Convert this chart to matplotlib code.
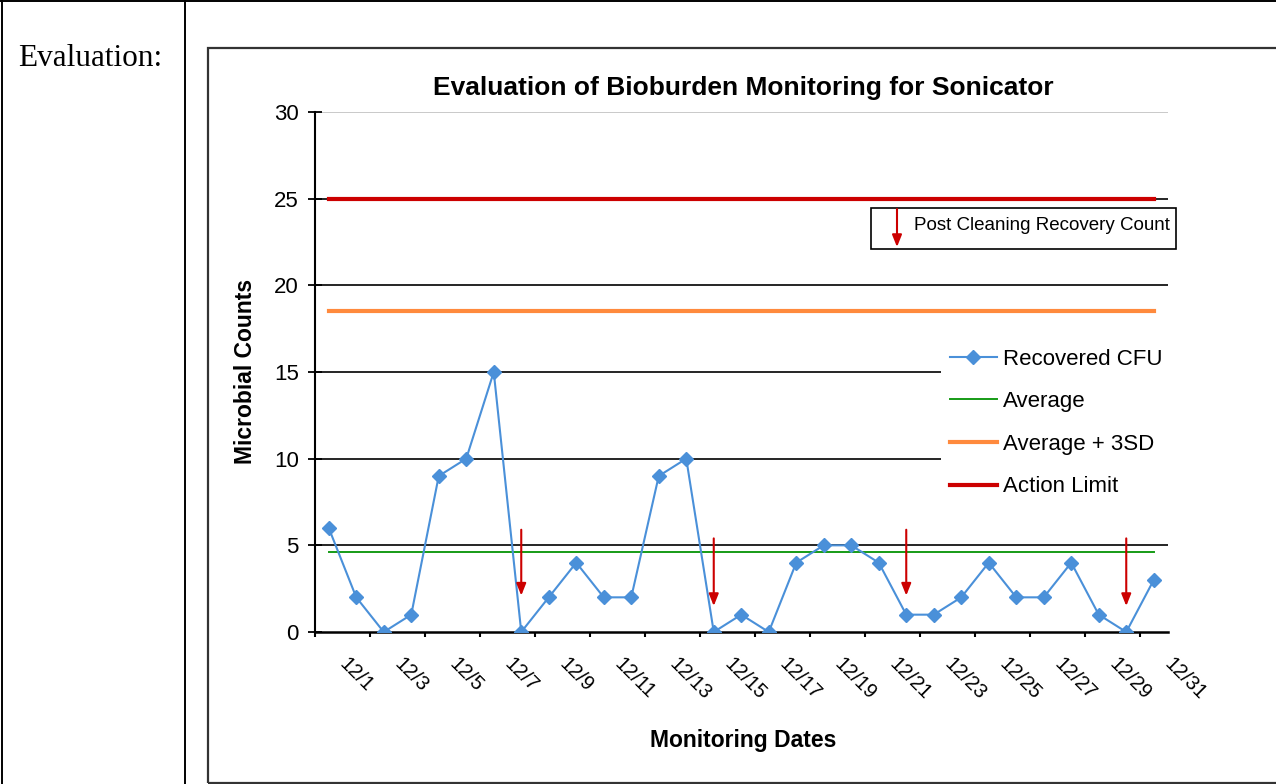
import matplotlib
matplotlib.use("Agg")
import matplotlib.pyplot as plt
import matplotlib.transforms as mtransforms
from matplotlib.lines import Line2D
from matplotlib.patches import Rectangle, FancyArrowPatch

# ---- data ----
dates = ["12/1", "12/2", "12/3", "12/4", "12/5", "12/6", "12/7", "12/8",
         "12/9", "12/10", "12/11", "12/12", "12/13", "12/14", "12/15", "12/16",
         "12/17", "12/18", "12/19", "12/20", "12/21", "12/22", "12/23", "12/24",
         "12/25", "12/26", "12/27", "12/28", "12/29", "12/30", "12/31"]
recovered_cfu = [6, 2, 0, 1, 9, 10, 15, 0, 2, 4, 2, 2, 9, 10, 0, 1,
                 0, 4, 5, 5, 4, 1, 1, 2, 4, 2, 2, 4, 1, 0, 3]
average = 4.6
average_3sd = 18.5
action_limit = 25
y_ticks = [0, 5, 10, 15, 20, 25, 30]

# post cleaning recovery counts (red arrows)
post_cleaning_days = ["12/8", "12/15", "12/22", "12/30"]
arrow_top = [5.9, 5.4, 5.9, 5.4]
arrow_tip = [2.1, 1.5, 2.1, 1.5]

W, H = 1276, 784
plt.rcParams['font.family'] = ['Liberation Sans', 'DejaVu Sans']

ARROW = '-|>,head_width=0.22,head_length=0.55'
RED = '#CC0000'


def fx(px):
    return px / W


def fy(py):
    # pixel measured from the top -> figure fraction
    return 1 - py / H


fig = plt.figure(figsize=(W / 100, H / 100), dpi=100)
fig.patch.set_facecolor('white')

# document table lines and chart frame
line_kw = dict(transform=fig.transFigure, color='black', lw=1.4)
fig.add_artist(Line2D([0, 1], [fy(0.6), fy(0.6)], **line_kw))
fig.add_artist(Line2D([fx(2.5), fx(2.5)], [0, 1], **line_kw))
fig.add_artist(Line2D([fx(184.5), fx(184.5)], [0, 1], **line_kw))
fig.add_artist(Rectangle((fx(208), fy(782.5)), fx(W + 20 - 208), (782.5 - 47.5) / H,
                         transform=fig.transFigure, fill=False,
                         edgecolor='#333333', lw=1.6))

fig.text(fx(18), fy(66.5), "Evaluation:", family='Liberation Serif',
         fontsize=22.5, ha='left', va='baseline')

ax = fig.add_axes([fx(315), fy(632), 852.5 / W, 520 / H])
x = list(range(len(dates)))
ax.set_xlim(-0.5, len(dates) - 0.5)
ax.set_ylim(0, 30)

for v in y_ticks[1:]:
    ax.axhline(v, color='black' if v < 30 else '#C0C0C0', lw=1.2, zorder=1)

ax.plot(x, recovered_cfu, color='#4A90D9', lw=1.5, marker='D', markersize=7.5,
        label='Recovered CFU', zorder=4)
ax.plot(x, [average] * len(x), color='#169B16', lw=1.4, label='Average', zorder=3)
ax.plot(x, [average_3sd] * len(x), color='#FF8A3D', lw=3, label='Average + 3SD', zorder=3)
ax.plot(x, [action_limit] * len(x), color=RED, lw=3, label='Action Limit', zorder=3)

for day, top, tip in zip(post_cleaning_days, arrow_top, arrow_tip):
    i = dates.index(day)
    ax.annotate('', xy=(i, tip), xytext=(i, top),
                arrowprops=dict(arrowstyle=ARROW, color=RED, lw=1.5,
                                mutation_scale=13, shrinkA=0, shrinkB=0), zorder=5)

for s in ['top', 'right']:
    ax.spines[s].set_visible(False)
ax.spines['left'].set_linewidth(1.5)
ax.spines['bottom'].set_linewidth(1.8)

ax.set_yticks(y_ticks)
ax.tick_params(axis='y', direction='inout', length=9.5, width=1.3, labelsize=16, pad=7)

ax.set_xticks([i - 0.5 for i in x[::2]])
ax.set_xticklabels([])
ax.tick_params(axis='x', which='major', direction='out', length=3.6, width=1.5)
ax.set_xticks(x[::2], minor=True)
ax.set_xticklabels(dates[::2], minor=True, rotation=-45, ha='left', va='center',
                   rotation_mode='anchor')
ax.tick_params(axis='x', which='minor', length=0, pad=21, labelsize=14.5)
shift = mtransforms.ScaledTranslation(14 / 100, 0, fig.dpi_scale_trans)
for lbl in ax.get_xticklabels(minor=True):
    lbl.set_transform(lbl.get_transform() + shift)

leg = ax.legend(loc='center left', bbox_to_anchor=(fx(941), fy(423)),
                bbox_transform=fig.transFigure, frameon=True, fancybox=False,
                facecolor='white', edgecolor='white', framealpha=1, fontsize=16,
                handlelength=2.1, handletextpad=0.3, labelspacing=0.97,
                borderpad=0.4, borderaxespad=0, numpoints=1)
leg.get_frame().set_linewidth(0)

# legend box for the red arrows
fig.add_artist(Rectangle((fx(871), fy(249)), (1176 - 871) / W, 41 / H,
                         transform=fig.transFigure, facecolor='white',
                         edgecolor='black', lw=1.2, zorder=2))
fig.add_artist(FancyArrowPatch((fx(897), fy(209)), (fx(897), fy(247)),
                               transform=fig.transFigure, arrowstyle=ARROW,
                               color=RED, lw=1.5, mutation_scale=13,
                               shrinkA=0, shrinkB=0, zorder=3))
fig.text(fx(914), fy(226), "Post Cleaning Recovery Count", fontsize=13.5,
         ha='left', va='center', zorder=3)

fig.text(fx(743.5), fy(95), "Evaluation of Bioburden Monitoring for Sonicator",
         fontsize=19, fontweight='bold', ha='center', va='baseline')
fig.text(fx(743), fy(747), "Monitoring Dates", fontsize=16.5, fontweight='bold',
         ha='center', va='baseline')
fig.text(fx(245), fy(371.5), "Microbial Counts", fontsize=16.5, fontweight='bold',
         ha='center', va='center', rotation=90)

fig.savefig("out.png", dpi=100)
